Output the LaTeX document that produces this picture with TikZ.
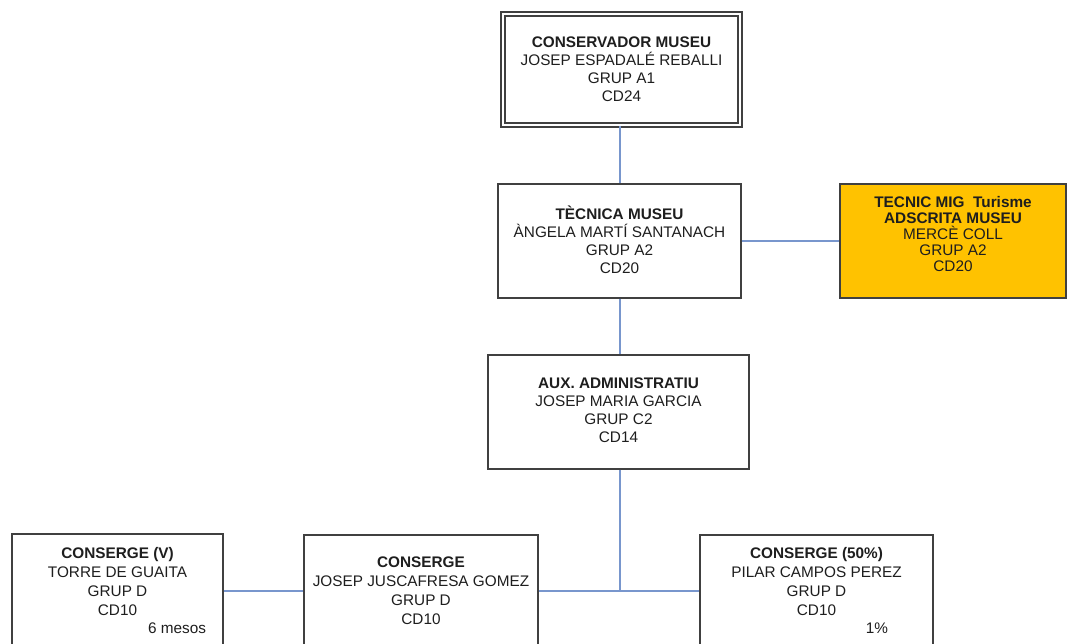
\documentclass[tikz,border=0pt]{standalone}
\usepackage{fontspec}
\setmainfont{Liberation Sans}
\definecolor{boxline}{RGB}{64,64,64}
\definecolor{linkc}{RGB}{120,150,205}
\definecolor{gold}{RGB}{255,194,0}
\definecolor{txtc}{RGB}{30,30,30}
\tikzset{
  box/.style={draw=boxline, line width=1.1pt, rectangle, inner sep=0pt},
  txt/.style={align=center, inner sep=0pt, text=txtc, font=\fontsize{11.5}{13.5}\selectfont},
  txtb/.style={align=center, inner sep=0pt, text=txtc, font=\fontsize{11.5}{14.25}\selectfont},
  link/.style={draw=linkc, line width=0.8pt},
}
\begin{document}
\begin{tikzpicture}[x=0.75pt,y=-0.75pt]
\clip (0,0) rectangle (1067,643);
\fill[white] (0,0) rectangle (1067,643);
% boxes
\node[box, double, double distance=2.2pt, line width=0.9pt, minimum width=237*0.75pt, minimum height=111*0.75pt] (cons) at (621.5,69.5) {};
\node[box, minimum width=243*0.75pt, minimum height=114*0.75pt] (tec) at (619.5,241) {};
\node[box, fill=gold, minimum width=226*0.75pt, minimum height=114*0.75pt] (ads) at (953,241) {};
\node[box, minimum width=261*0.75pt, minimum height=114*0.75pt] (aux) at (618.5,412) {};
\node[box, minimum width=211*0.75pt, minimum height=114*0.75pt] (cl) at (117.5,591) {};
\node[box, minimum width=234*0.75pt, minimum height=112*0.75pt] (cm) at (421,591) {};
\node[box, minimum width=233*0.75pt, minimum height=112*0.75pt] (cr) at (816.5,591) {};
% texts
\node[txt] (t1) at (621.5,69) {\textbf{CONSERVADOR MUSEU}\\JOSEP ESPADALÉ REBALLI\\GRUP A1\\CD24};
\node[txt] (t2) at (619.5,240) {\textbf{TÈCNICA MUSEU}\\ÀNGELA MARTÍ SANTANACH\\GRUP A2\\CD20};
\node[align=center, inner sep=0pt, text=txtc, font=\fontsize{11.5}{12}\selectfont] (t3) at (953,234.5) {\textbf{TECNIC MIG\ \ Turisme}\\\textbf{ADSCRITA MUSEU}\\MERCÈ COLL\\GRUP A2\\CD20};
\node[txt] (t4) at (618.5,410.5) {\textbf{AUX. ADMINISTRATIU}\\JOSEP MARIA GARCIA\\GRUP C2\\CD14};
\node[txtb] (t5) at (117.5,581.5) {\textbf{CONSERGE (V)}\\TORRE DE GUAITA\\GRUP D\\CD10};
\node[txt] (t5b) at (177,628) {6 mesos};
\node[txtb] (t6) at (421,590.5) {\textbf{CONSERGE}\\JOSEP JUSCAFRESA GOMEZ\\GRUP D\\CD10};
\node[txtb] (t7) at (816.5,581.5) {\textbf{CONSERGE (50\%)}\\PILAR CAMPOS PEREZ\\GRUP D\\CD10};
\node[txt] (t7b) at (877,628) {1\%};
% connectors
\coordinate (j) at (620,591);
\draw[link] (cons.south -| 620,0) -- (tec.north -| 620,0);
\draw[link] (tec.east) -- (ads.west);
\draw[link] (tec.south -| 620,0) -- (aux.north -| 620,0);
\draw[link] (aux.south -| j) -- (j);
\draw[link] (cm.east) -- (cr.west);
\draw[link] (cl.east) -- (cm.west);
\end{tikzpicture}
\end{document}
